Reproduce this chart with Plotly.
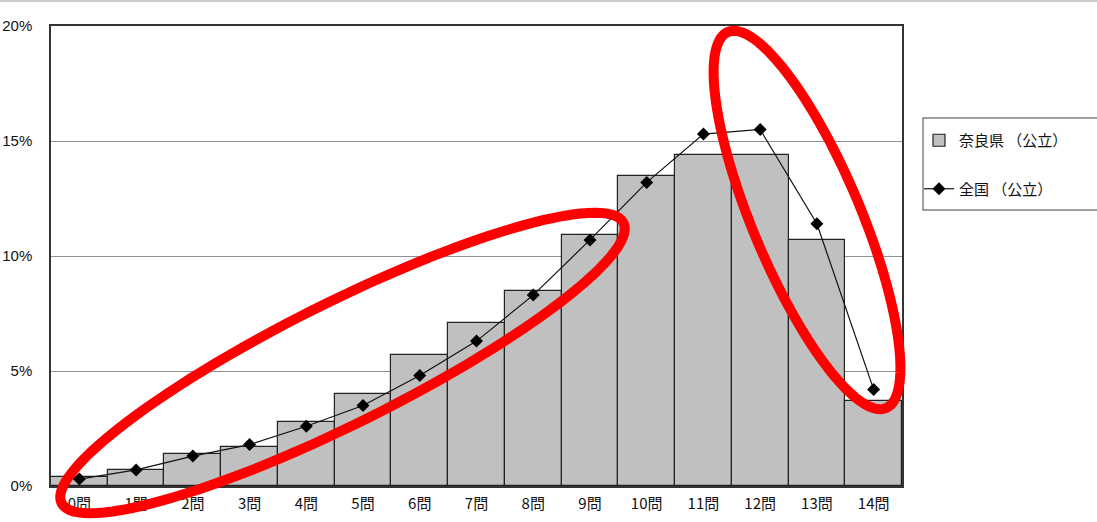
import numpy as np
import plotly.graph_objects as go

# ---- data ----
categories = [f"{i}問" for i in range(15)]
nara = [0.4, 0.7, 1.4, 1.7, 2.8, 4.0, 5.7, 7.1, 8.5, 10.9, 13.5, 14.4, 14.4, 10.7, 3.7]
zenkoku = [0.3, 0.7, 1.3, 1.8, 2.6, 3.5, 4.8, 6.3, 8.3, 10.7, 13.2, 15.3, 15.5, 11.4, 4.2]
y_tick_vals = [0, 5, 10, 15, 20]
y_tick_text = ["0%", "5%", "10%", "15%", "20%"]
series_names = ["奈良県 （公立）", "全国 （公立）"]

# ---- layout geometry (pixels) ----
W, H = 1097, 522
L, R, T, B = 51, 195, 26, 36
PW, PH = W - L - R, H - T - B


def px2paper(px, py):
    return (px - L) / PW, (H - B - py) / PH


def ellipse_path(cx, cy, a, b, theta_deg, n=120):
    th = np.radians(theta_deg)
    phi = np.linspace(0, 2 * np.pi, n, endpoint=False)
    xs = cx + a * np.cos(phi) * np.cos(th) + b * np.sin(phi) * np.sin(th)
    ys = cy - a * np.cos(phi) * np.sin(th) + b * np.sin(phi) * np.cos(th)
    pts = [px2paper(x, y) for x, y in zip(xs, ys)]
    return "M " + " L ".join(f"{x:.5f},{y:.5f}" for x, y in pts) + " Z"


fig = go.Figure()
fig.add_trace(go.Bar(
    x=categories, y=nara, name=series_names[0], legendgroup="a",
    marker=dict(color="#C0C0C0", line=dict(color="#222222", width=1.2)),
))
fig.add_trace(go.Scatter(
    x=categories, y=zenkoku, name=series_names[1], legendgroup="b",
    mode="lines+markers",
    line=dict(color="#111111", width=1.2),
    marker=dict(symbol="diamond", size=10, color="#000000"),
))

font_fam = "Noto Sans CJK JP, Liberation Sans, sans-serif"

shapes = []
# top thin gray line across the picture
x0p, _ = px2paper(0, 0)
x1p, _ = px2paper(W, 0)
_, ytop = px2paper(0, 1)
shapes.append(dict(type="line", xref="paper", yref="paper", x0=x0p, x1=x1p, y0=ytop, y1=ytop,
                   line=dict(color="#CCCCCC", width=2)))
# legend box
lx0, ly0 = px2paper(923, 118)
lx1, ly1 = px2paper(1105, 210)
shapes.append(dict(type="rect", xref="paper", yref="paper", x0=lx0, x1=lx1, y0=ly1, y1=ly0,
                   line=dict(color="#808080", width=1.5), fillcolor="rgba(0,0,0,0)"))
# red highlight ellipses
for (cx, cy, a, b, ang) in [(342.5, 363, 314, 60.6, 26.5), (807, 220, 204, 54, -67.2)]:
    shapes.append(dict(type="path", xref="paper", yref="paper", path=ellipse_path(cx, cy, a, b, ang),
                       line=dict(color="#FF0000", width=10), fillcolor="rgba(0,0,0,0)", layer="above"))

legx, legy = px2paper(919, 124)

fig.update_layout(
    width=W, height=H,
    margin=dict(l=L, r=R, t=T, b=B, pad=0, autoexpand=False),
    paper_bgcolor="white", plot_bgcolor="white",
    bargap=0,
    showlegend=True,
    legend=dict(x=legx, y=legy, xanchor="left", yanchor="top",
                bgcolor="rgba(0,0,0,0)", borderwidth=0,
                traceorder="grouped", tracegroupgap=26,
                font=dict(family=font_fam, size=15, color="#111111")),
    xaxis=dict(
        type="category", range=[-0.5, len(categories) - 0.5],
        showgrid=False, zeroline=False, automargin=False,
        showline=True, linecolor="#333333", linewidth=1.5, mirror=True,
        ticks="", tickfont=dict(family=font_fam, size=15, color="#111111"),
        ticklabelstandoff=3,
    ),
    yaxis=dict(
        range=[0, 20], tickvals=y_tick_vals, ticktext=y_tick_text, automargin=False,
        showgrid=True, gridcolor="#909090", gridwidth=1, zeroline=False,
        showline=True, linecolor="#333333", linewidth=1.5, mirror=True,
        ticks="", tickfont=dict(family="Liberation Sans, Arial, sans-serif", size=15, color="#111111"),
        ticklabelstandoff=14,
    ),
    shapes=shapes,
)

fig.write_html("out.html", config={"displayModeBar": False},
               post_script="document.body.style.margin='0';document.body.style.overflow='hidden';")
